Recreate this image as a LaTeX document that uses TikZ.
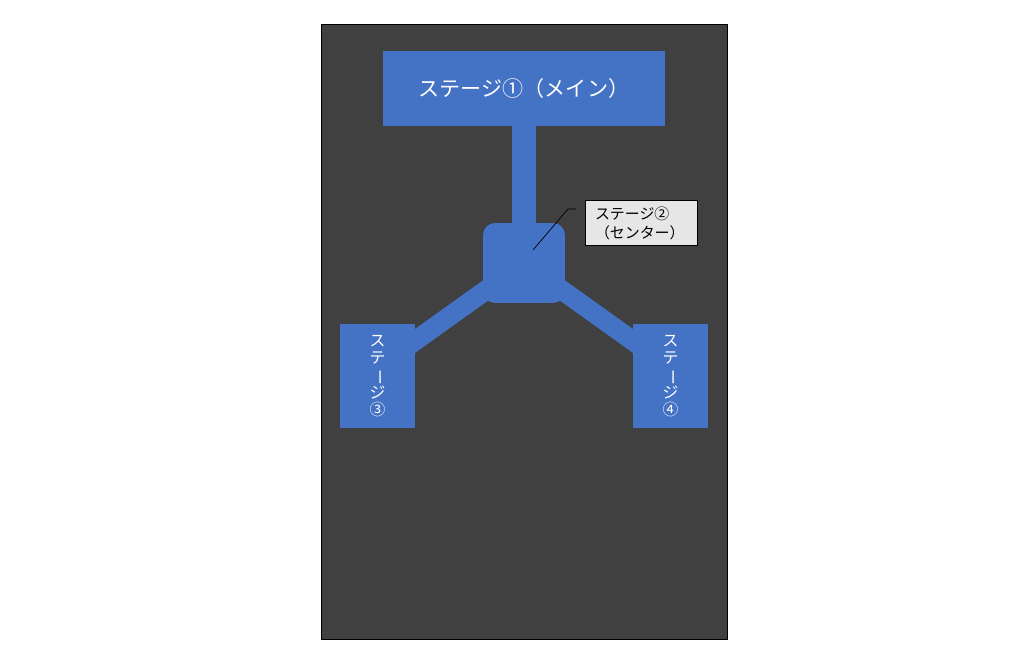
\documentclass[tikz,border=0pt]{standalone}
\usepackage{fontspec}
\usepackage{graphicx}
\usepackage{xcolor}
\usepackage{tikz}
\usetikzlibrary{positioning,calc}
\newfontfamily\jpfont{Noto Sans CJK JP}
\definecolor{stageblue}{HTML}{4472C4}
\definecolor{floor}{HTML}{404040}
\definecolor{notegray}{HTML}{E7E6E6}
\newcommand{\vbar}{\rotatebox[origin=c]{-90}{ー}}

\begin{document}
\begin{tikzpicture}[
    x=0.02cm, y=-0.02cm,
    stage/.style={draw=none, fill=stageblue, text=white, inner sep=0pt, font=\jpfont},
    substage/.style={stage, minimum width=1.5cm, minimum height=2.08cm, align=center,
        font=\jpfont\fontsize{9}{9.9}\selectfont},
    walk/.style={stageblue, line width=0.39cm},
    note/.style={draw=black, fill=notegray, text=black, font=\jpfont\fontsize{8.5}{10.8}\selectfont,
        align=left, text width=1.84cm, inner xsep=0.2cm, minimum height=0.88cm}
]
    \useasboundingbox (0,0) rectangle (1036,658);

    % Floor
    \draw[black, fill=floor] (321,24) rectangle (727,639);

    % Stages
    \node[stage, minimum width=5.64cm, minimum height=1.5cm, font=\jpfont\fontsize{12}{14}\selectfont]
        (s1) at (524,88.5) {ステージ①（メイン）};
    \node[stage, rounded corners=0.24cm, minimum width=1.64cm, minimum height=1.6cm]
        (s2) at (524,263) {};
    \coordinate (j3) at (380,366);
    \coordinate (j4) at (668,366);

    % Walkways
    \draw[stageblue, line width=0.48cm] (s1.south) -- (s2.north);
    \draw[walk] (s2.center) -- (j3);
    \draw[walk] (s2.center) -- (j4);

    \node[substage] (s3) at (377.5,376) {ス\\テ\\\vbar\\ジ\\③};
    \node[substage] (s4) at (670.5,376) {ス\\テ\\\vbar\\ジ\\④};

    % Callout
    \node[note] (c2) at (641,223) {ステージ②\\（センター）};
    \coordinate (tip) at (533,250);
    \coordinate (elbow) at (568,209);
    \coordinate (tail) at (576,209);
    \draw[black, thin] (tip) -- (elbow) -- (tail);
\end{tikzpicture}
\end{document}
